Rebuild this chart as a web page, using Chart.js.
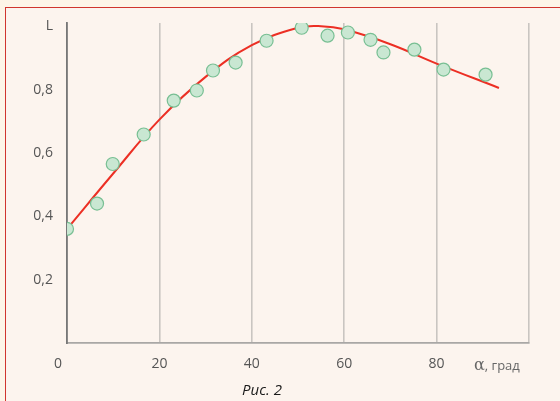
<!DOCTYPE html>
<html>
<head>
<meta charset="utf-8">
<script src="https://cdn.jsdelivr.net/npm/chart.js@4.4.1/dist/chart.umd.min.js"></script>
<style>
  html, body { margin:0; padding:0; }
  body { width:560px; height:401px; background:#fdf5e8; position:relative; overflow:hidden; font-family:"Open Sans", sans-serif; }
  #box { position:absolute; left:5px; top:7px; width:600px; height:450px; border:1px solid #d0352e; background:#fcf4ee; }
  #wrap { position:absolute; left:0; top:0; width:560px; height:401px; }
  #cap { position:absolute; left:230px; top:379px; width:64px; text-align:center; font-style:italic; font-size:15px; color:#1a1a1a; font-family:"Open Sans", sans-serif; }
  #xt { position:absolute; left:474px; top:355px; font-size:13px; color:#666; white-space:nowrap; }
  #xt .a { font-family:"DejaVu Serif", serif; font-size:16px; }
</style>
</head>
<body>
<div id="box"></div>
<div id="wrap"><canvas id="c" width="560" height="401"></canvas></div>
<div id="xt"><span class="a">α</span>, град</div>
<div id="cap">Рис. 2</div>
<script>
// Measured points (angle α in degrees, L)
const pointX = [0, 6.5, 9.9, 16.6, 23.1, 28.1, 31.6, 36.5, 43.2, 50.8, 56.4, 60.8, 65.7, 68.5, 75.2, 81.5, 90.6];
const pointY = [0.36, 0.44, 0.565, 0.658, 0.765, 0.797, 0.86, 0.885, 0.954, 0.995, 0.97, 0.98, 0.957, 0.917, 0.926, 0.863, 0.847];
// Fitted curve
const curveX = [0, 10, 20, 30, 40, 50, 55, 60, 70, 80, 93.5];
const curveY = [0.36, 0.535, 0.705, 0.84, 0.94, 0.995, 1.0, 0.99, 0.943, 0.882, 0.805];
// Tick labels
const xTicks = [0, 20, 40, 60, 80, 100];
const xTickLabels = ['0', '20', '40', '60', '80', ''];
const yTicks = [0.2, 0.4, 0.6, 0.8, 1.0];
const yTickLabels = ['0,2', '0,4', '0,6', '0,8', 'L'];

const pts = pointX.map((x, i) => ({x, y: pointY[i]}));
const crv = curveX.map((x, i) => ({x, y: curveY[i]}));

new Chart(document.getElementById('c'), {
  type: 'scatter',
  data: {
    datasets: [
      { data: pts, order: 0, pointRadius: 6.5, pointHoverRadius: 6.5,
        backgroundColor: '#c9e7d2', borderColor: '#78bf93', borderWidth: 1.2, showLine: false },
      { data: crv, order: 1, showLine: true, pointRadius: 0, borderColor: '#ec2f24',
        borderWidth: 2, tension: 0.4, fill: false }
    ]
  },
  options: {
    responsive: false,
    animation: false,
    events: [],
    layout: { padding: { left: 0, top: 23, right: 31, bottom: 0 } },
    plugins: { legend: { display: false }, tooltip: { enabled: false } },
    scales: {
      x: {
        type: 'linear', min: 0, max: 100,
        afterBuildTicks: s => { s.ticks = xTicks.map(v => ({value: v})); },
        afterFit: s => { s.height = 58; },
        grid: { display: true, color: '#c9c5c1', lineWidth: 1.6, drawTicks: false },
        border: { display: true, color: '#a9a7a5', width: 1.8 },
        ticks: { padding: 13, color: '#555', font: { family: 'Open Sans', size: 14 },
          callback: (v) => { const i = xTicks.indexOf(v); return i >= 0 ? (i === 0 ? '0     ' : xTickLabels[i]) : ''; } }
      },
      y: {
        type: 'linear', min: 0, max: 1.01,
        afterBuildTicks: s => { s.ticks = yTicks.map(v => ({value: v})); },
        afterFit: s => { s.width = 67; },
        grid: { display: false, drawTicks: false },
        border: { display: true, color: '#777', width: 1.8 },
        ticks: { padding: 14, color: '#555', font: { family: 'Open Sans', size: 14 },
          callback: (v) => { const i = yTicks.findIndex(t => Math.abs(t - v) < 1e-6); return i >= 0 ? yTickLabels[i] : ''; } }
      }
    }
  }
});
</script>
</body>
</html>
